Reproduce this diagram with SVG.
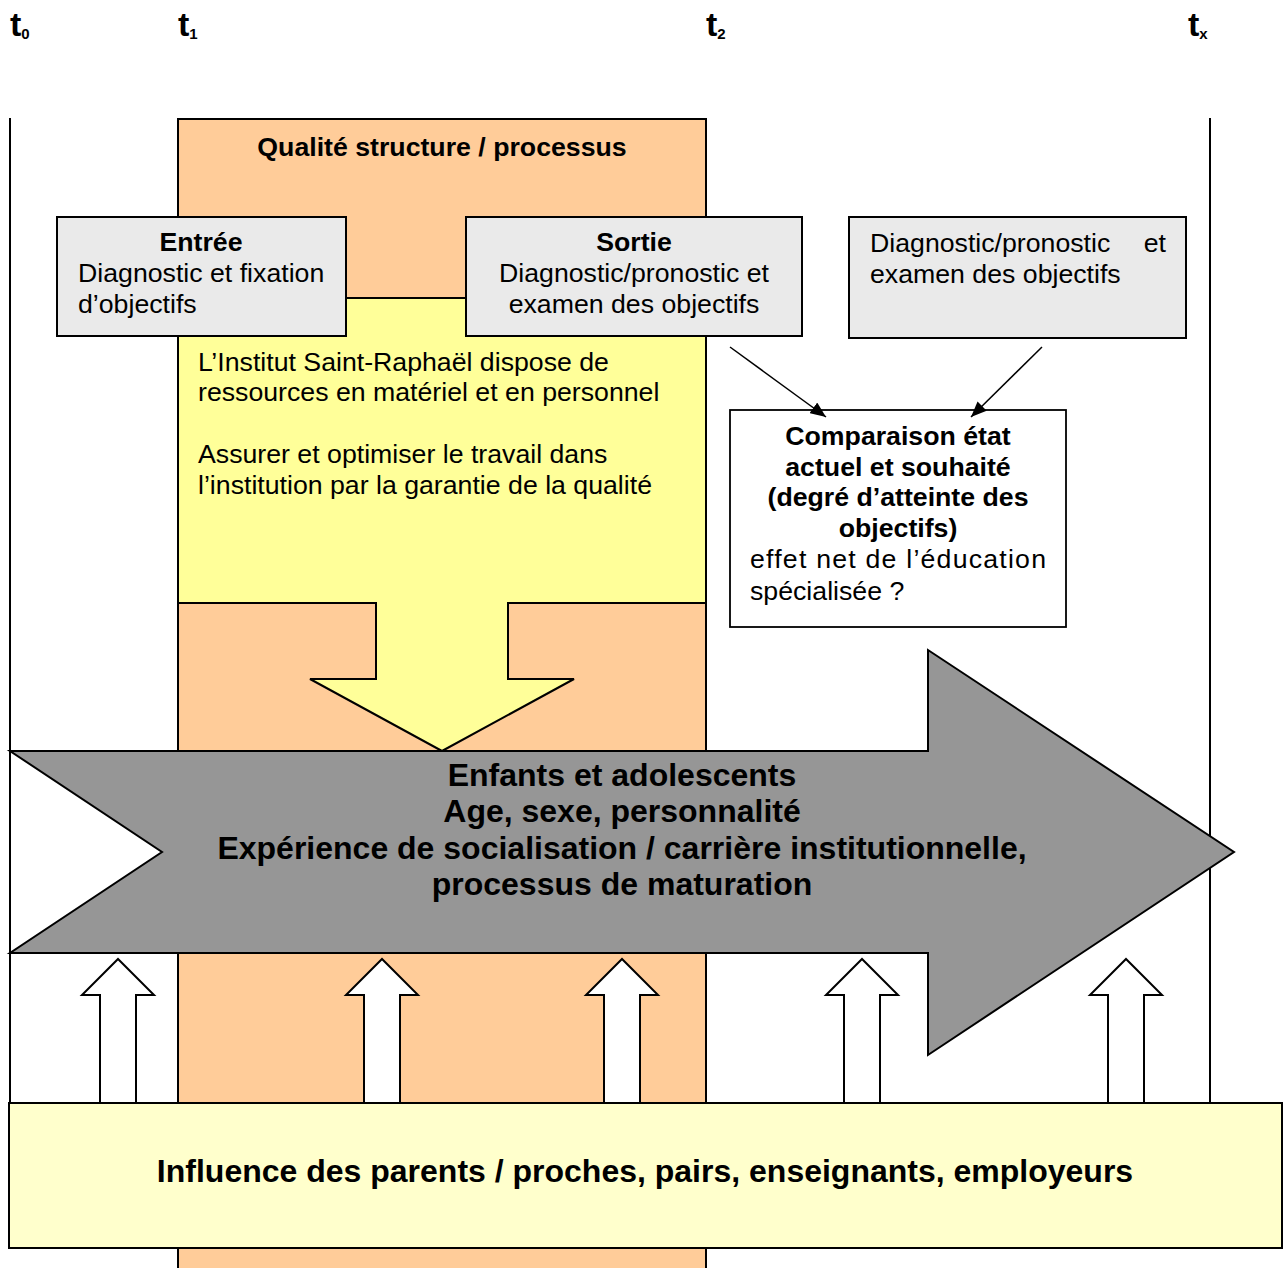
<svg xmlns="http://www.w3.org/2000/svg" width="1288" height="1268" viewBox="0 0 1288 1268">
<defs>
<style>
text{font-family:"Liberation Sans",Arial,sans-serif;fill:#000}
.b{font-weight:bold}
.t{font-size:34px;font-weight:bold}
.sub{font-size:15px;font-weight:bold}
.body{font-size:26.7px}
.big{font-size:32px;font-weight:bold}
.box{fill:#EAEAEA;stroke:#000;stroke-width:2}
.up{fill:#fff;stroke:#000;stroke-width:2;stroke-linejoin:miter}
.conn{stroke:#000;stroke-width:1.5;fill:none}
</style>
<marker id="ah2" viewBox="0 0 12 10" refX="12" refY="5" markerWidth="16" markerHeight="13" markerUnits="userSpaceOnUse" orient="auto">
<path d="M0,0 L12,5 L0,10 z" fill="#000"/>
</marker>
</defs>
<rect width="1288" height="1268" fill="#fff"/>

<g id="timeline-labels">
<text x="10" y="36" class="t">t<tspan class="sub" dy="3">0</tspan></text>
<text x="178" y="36" class="t">t<tspan class="sub" dy="3">1</tspan></text>
<text x="706" y="36" class="t">t<tspan class="sub" dy="3">2</tspan></text>
<text x="1188" y="36" class="t">t<tspan class="sub" dy="3">x</tspan></text>
</g>

<g id="time-lines">
<line x1="10" y1="118" x2="10" y2="1103" stroke="#000" stroke-width="2"/>
<line x1="1210" y1="118" x2="1210" y2="1103" stroke="#000" stroke-width="2"/>
</g>

<g id="qualite-column">
<path d="M178,1268 L178,119 L706,119 L706,1268" fill="#FFCC99" stroke="#000" stroke-width="2"/>
<text x="442" y="156" class="b" font-size="26.7" text-anchor="middle">Qualité structure / processus</text>
</g>

<g id="ressources">
<polygon points="178,298 706,298 706,603 508,603 508,679 574,679 442,751 310,679 376,679 376,603 178,603" fill="#FFFF99" stroke="#000" stroke-width="2"/>
<text class="body" x="198" y="371">L’Institut Saint-Raphaël dispose de</text>
<text class="body" x="198" y="401">ressources en matériel et en personnel</text>
<text class="body" x="198" y="463">Assurer et optimiser le travail dans</text>
<text class="body" x="198" y="494">l’institution par la garantie de la qualité</text>
</g>

<g id="entree">
<rect class="box" x="57" y="217" width="289" height="119"/>
<text class="body b" x="201" y="251" text-anchor="middle">Entrée</text>
<text class="body" x="78" y="282">Diagnostic et fixation</text>
<text class="body" x="78" y="313">d’objectifs</text>
</g>

<g id="sortie">
<rect class="box" x="466" y="217" width="336" height="119"/>
<text class="body b" x="634" y="251" text-anchor="middle">Sortie</text>
<text class="body" x="634" y="282" text-anchor="middle">Diagnostic/pronostic et</text>
<text class="body" x="634" y="313" text-anchor="middle">examen des objectifs</text>
</g>

<g id="diagnostic-tx">
<rect class="box" x="849" y="217" width="337" height="121"/>
<text class="body" x="870" y="252">Diagnostic/pronostic</text>
<text class="body" x="1166" y="252" text-anchor="end">et</text>
<text class="body" x="870" y="283">examen des objectifs</text>
</g>

<g id="comparaison">
<rect x="730" y="410" width="336" height="217" fill="#fff" stroke="#000" stroke-width="1.8"/>
<text class="body b" x="898" y="445" text-anchor="middle">Comparaison état</text>
<text class="body b" x="898" y="476" text-anchor="middle">actuel et souhaité</text>
<text class="body b" x="898" y="506" text-anchor="middle">(degré d’atteinte des</text>
<text class="body b" x="898" y="537" text-anchor="middle">objectifs)</text>
<text class="body" x="750" y="568" textLength="296" lengthAdjust="spacing">effet net de l’éducation</text>
<text class="body" x="750" y="600">spécialisée ?</text>
</g>

<g id="connectors">
<line class="conn" x1="730" y1="347" x2="826" y2="417" marker-end="url(#ah2)"/>
<line class="conn" x1="1042" y1="347" x2="971" y2="417" marker-end="url(#ah2)"/>
</g>

<g id="enfants">
<polygon points="10,751 928,751 928,650 1234,852 928,1055 928,953 10,953 162,852" fill="#969696" stroke="#000" stroke-width="2" stroke-linejoin="miter"/>
<text class="big" x="622" y="786" text-anchor="middle">Enfants et adolescents</text>
<text class="big" x="622" y="822" text-anchor="middle">Age, sexe, personnalité</text>
<text class="big" x="622" y="859" text-anchor="middle">Expérience de socialisation / carrière institutionnelle,</text>
<text class="big" x="622" y="895" text-anchor="middle">processus de maturation</text>
</g>

<g id="influences">
<polygon class="up" points="100,1103 100,995 82,995 118,959 154,995 136,995 136,1103"/>
<polygon class="up" points="364,1103 364,995 346,995 382,959 418,995 400,995 400,1103"/>
<polygon class="up" points="604,1103 604,995 586,995 622,959 658,995 640,995 640,1103"/>
<polygon class="up" points="844,1103 844,995 826,995 862,959 898,995 880,995 880,1103"/>
<polygon class="up" points="1108,1103 1108,995 1090,995 1126,959 1162,995 1144,995 1144,1103"/>
</g>

<g id="environnement">
<rect x="9" y="1103" width="1273" height="145" fill="#FFFFCC" stroke="#000" stroke-width="2"/>
<text class="big" x="645" y="1182" text-anchor="middle">Influence des parents / proches, pairs, enseignants, employeurs</text>
</g>
</svg>
